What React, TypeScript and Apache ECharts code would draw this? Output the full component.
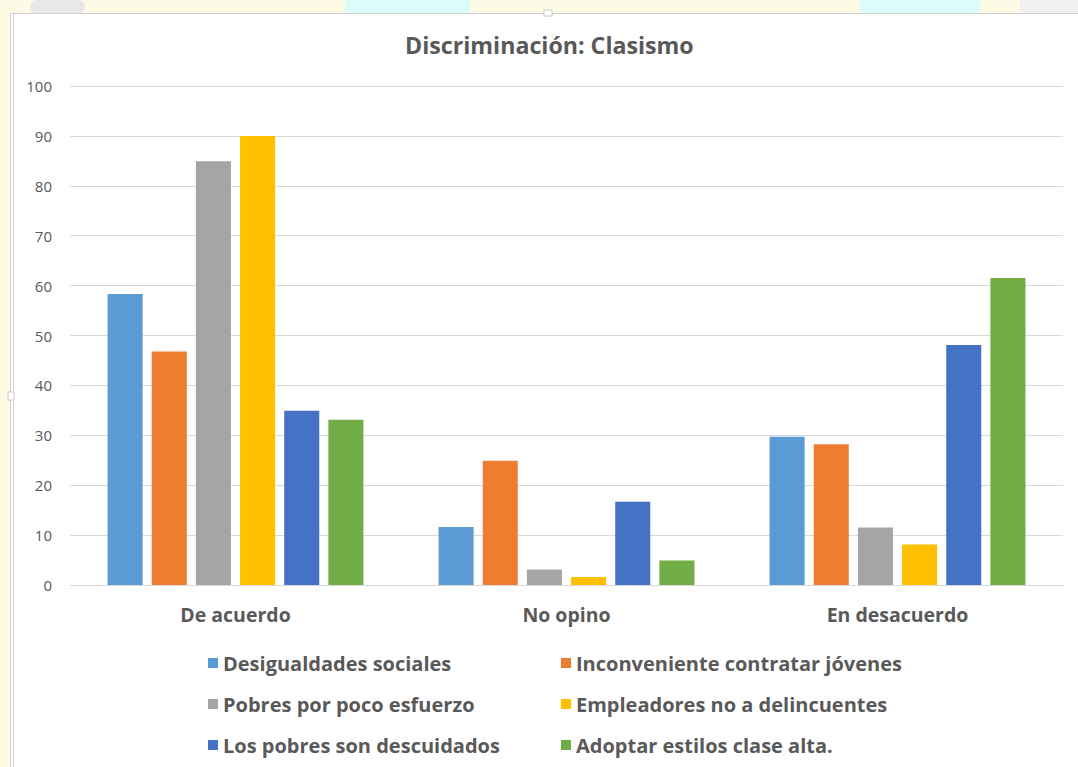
import React, { useEffect, useRef } from "react";
import * as echarts from "echarts";

const categories = ["De acuerdo", "No opino", "En desacuerdo"];
const seriesNames = [
  "Desigualdades sociales",
  "Inconveniente contratar jóvenes",
  "Pobres por poco esfuerzo",
  "Empleadores no a delincuentes",
  "Los pobres son descuidados",
  "Adoptar estilos clase alta.",
];
const desigualdades = [58.3, 11.6, 29.7];
const inconveniente = [46.8, 24.9, 28.2];
const pobresEsfuerzo = [84.9, 3.1, 11.5];
const empleadores = [90.0, 1.6, 8.1];
const descuidados = [34.9, 16.7, 48.1];
const estilos = [33.1, 4.9, 61.5];
const seriesValues = [desigualdades, inconveniente, pobresEsfuerzo, empleadores, descuidados, estilos];
const colors = ["#5B9BD5", "#ED7D31", "#A5A5A5", "#FFC000", "#4472C4", "#70AD47"];
const yTicks = { min: 0, max: 100, interval: 10 };

const FONT = "'Open Sans', 'Noto Sans', sans-serif";
const TXT = "#595959";

export default function App() {
  const ref = useRef<HTMLDivElement>(null);
  useEffect(() => {
    document.body.style.margin = "0";
    const chart = echarts.init(ref.current!, null, { renderer: "svg" });
    const legendCommon = {
      orient: "vertical" as const,
      top: 648,
      itemWidth: 10,
      itemHeight: 10,
      itemGap: 21,
      icon: "rect",
      textStyle: { color: TXT, fontSize: 20, fontWeight: "bold", fontFamily: FONT, padding: [0, 0, 0, 0] },
    };
    chart.setOption({
      animation: false,
      backgroundColor: "#ffffff",
      graphic: [
        { type: "rect", z: -10, shape: { x: 0, y: 0, width: 1078, height: 14 }, style: { fill: "#fdfbe6" } },
        { type: "rect", z: -9, shape: { x: 345, y: 0, width: 125, height: 14 }, style: { fill: "#dcfbfb" } },
        { type: "rect", z: -9, shape: { x: 860, y: 0, width: 120, height: 14 }, style: { fill: "#dcfbfb" } },
        { type: "rect", z: -9, shape: { x: 30, y: 0, width: 55, height: 14, r: 10 }, style: { fill: "#e8e8e8" } },
        { type: "rect", z: -9, shape: { x: 1020, y: 0, width: 58, height: 14 }, style: { fill: "#f0f0f0" } },
        { type: "rect", z: -10, shape: { x: 0, y: 0, width: 10, height: 767 }, style: { fill: "#fdfbe6" } },
        {
          type: "rect",
          z: -5,
          shape: { x: 10.5, y: 13.5, width: 1100, height: 800 },
          style: { fill: "#ffffff", stroke: "#d0d0d0", lineWidth: 1 },
        },
        { type: "line", z: -4, shape: { x1: 13.5, y1: 14, x2: 13.5, y2: 767 }, style: { stroke: "#d0d0d0", lineWidth: 1 } },
        { type: "rect", z: -3, shape: { x: 544, y: 10, width: 8, height: 6 }, style: { fill: "#ffffff", stroke: "#c8c8c8", lineWidth: 1 } },
        { type: "rect", z: -3, shape: { x: 8, y: 392, width: 6, height: 8 }, style: { fill: "#ffffff", stroke: "#c8c8c8", lineWidth: 1 } },
      ],
      title: {
        text: "Discriminación: Clasismo",
        left: 400,
        top: 28,
        textStyle: { color: TXT, fontSize: 23.2, fontWeight: "bold", fontFamily: FONT },
      },
      grid: { left: 70, right: 15, top: 86, bottom: 182, containLabel: false },
      legend: [
        { ...legendCommon, left: 203, data: [seriesNames[0], seriesNames[2], seriesNames[4]] },
        { ...legendCommon, left: 556, data: [seriesNames[1], seriesNames[3], seriesNames[5]] },
      ],
      xAxis: {
        type: "category",
        data: categories,
        axisLine: { lineStyle: { color: "#d9d9d9", width: 1 } },
        axisTick: { show: false },
        axisLabel: { color: TXT, fontSize: 19.5, fontWeight: "bold", fontFamily: FONT, margin: 19 },
      },
      yAxis: {
        type: "value",
        min: yTicks.min,
        max: yTicks.max,
        interval: yTicks.interval,
        axisLine: { show: false },
        axisTick: { show: false },
        splitLine: { lineStyle: { color: "#d9d9d9", width: 1 } },
        axisLabel: { color: TXT, fontSize: 15, fontFamily: FONT, margin: 18 },
      },
      series: seriesNames.map((name, i) => ({
        name,
        type: "bar",
        data: seriesValues[i],
        itemStyle: { color: colors[i] },
        barGap: "26%",
        barCategoryGap: "22.7%",
      })),
    });
    return () => chart.dispose();
  }, []);
  return <div ref={ref} style={{ width: 1078, height: 767 }} />;
}
